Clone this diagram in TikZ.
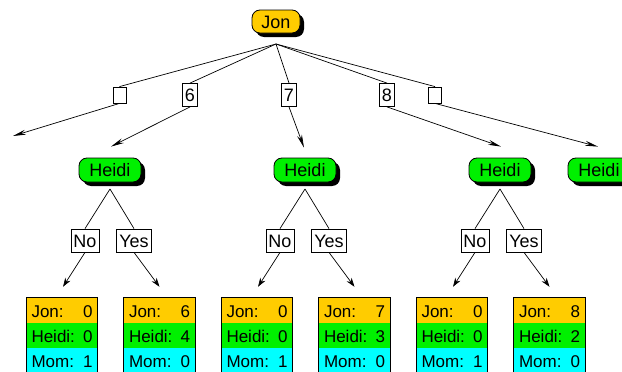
\documentclass[tikz,border=0pt]{standalone}
\usepackage{fontspec}
\setmainfont{Liberation Sans}
\usetikzlibrary{shadows,arrows.meta,calc}
\definecolor{jonc}{RGB}{255,204,0}
\definecolor{heidic}{RGB}{0,240,0}
\definecolor{momc}{RGB}{0,255,255}
\begin{document}
\begin{tikzpicture}[x=1pt,y=-1pt,
  player/.style={draw=black, line width=0.8pt, rounded corners=8pt, inner sep=0pt,
    text height=13pt, text depth=0pt, font=\fontsize{18}{18}\selectfont,
    drop shadow={shadow xshift=4pt, shadow yshift=-4pt, fill=black, opacity=1}},
  jonnode/.style={player, fill=jonc, minimum width=48pt, minimum height=23pt},
  heidinode/.style={player, fill=heidic, minimum width=62pt, minimum height=24pt},
  lab/.style={draw=black, line width=0.8pt, fill=white, inner xsep=2.5pt, inner ysep=0pt,
    minimum height=23pt, text height=13pt, text depth=0pt, font=\fontsize{18}{18}\selectfont},
  emptylab/.style={draw=black, line width=0.8pt, fill=white, inner sep=0pt,
    minimum width=13pt, minimum height=16pt},
  leafrow/.style={inner xsep=5pt, inner ysep=0pt, minimum height=25pt, text width=61pt,
    text height=13pt, text depth=0pt, font=\fontsize{17}{17}\selectfont},
  jrow/.style={leafrow, fill=jonc},
  hrow/.style={leafrow, fill=heidic},
  mrow/.style={leafrow, fill=momc},
  leafborder/.style={draw=black, line width=0.8pt},
  conn/.style={line width=0.7pt},
  arr/.style={conn, -{Stealth[length=13pt,width=5pt]}},
  sarr/.style={conn, -{Stealth[length=9pt,width=6pt]}},
]
\useasboundingbox (0,0) rectangle (622,372);
\clip (0,0) rectangle (622,372);

% root
\node[jonnode] (jon) at (276,21.5) {Jon};
\coordinate (japex) at (276,44);

% move labels
\node[emptylab] (l1) at (119.5,95) {};
\node[lab] (l2) at (190,95) {6};
\node[lab] (l3) at (289,95) {7};
\node[lab] (l4) at (387,95) {8};
\node[emptylab] (l5) at (435,95) {};
\coordinate (offl) at (13,136);

% Heidi nodes
\node[heidinode] (h1) at (110,170) {Heidi};
\node[heidinode] (h2) at (305,170) {Heidi};
\node[heidinode] (h3) at (500,170) {Heidi};
\node[heidinode] (h4) at (599,170) {Heidi};

\draw[conn] (japex) -- (l1.north);
\draw[conn] (japex) -- (l2.north);
\draw[conn] (japex) -- (l3.north);
\draw[conn] (japex) -- (l4.north);
\draw[conn] (japex) -- (l5.north);
\draw[arr] (l1.south) -- (offl);
\draw[arr] (l2.south) -- ($(h1.north)+(1,-11)$);
\draw[arr] (l3.south) -- ($(h2.north)+(-1,-10)$);
\draw[arr] (l4.south) -- ($(h3.north)+(1,-11)$);
\draw[arr] (l5.south) -- ($(h4.north)+(-1,-11)$);

% subtrees
\foreach \i/\H/\ja/\ha/\ma/\jb/\hb/\mb in {1/110/0/0/1/6/4/0, 2/305/0/0/1/7/3/0, 3/500/0/0/1/8/2/0} {
  \coordinate (ha\i) at (\H,189);
  \node[lab] (no\i) at (\H-25,240.5) {No};
  \node[lab] (yes\i) at (\H+24,240.5) {Yes};
  \node[jrow] (fa\i j) at (\H-48,310.5) {Jon:\hfill \ja};
  \node[hrow] (fa\i h) at (\H-48,335.5) {Heidi:\hfill \ha};
  \node[mrow] (fa\i m) at (\H-48,360.5) {Mom:\hfill \ma};
  \draw[leafborder] (fa\i j.north west) rectangle (fa\i m.south east);
  \node[jrow] (fb\i j) at (\H+49.5,310.5) {Jon:\hfill \jb};
  \node[hrow] (fb\i h) at (\H+49.5,335.5) {Heidi:\hfill \hb};
  \node[mrow] (fb\i m) at (\H+49.5,360.5) {Mom:\hfill \mb};
  \draw[leafborder] (fb\i j.north west) rectangle (fb\i m.south east);
  \draw[conn] (ha\i) -- (no\i.north);
  \draw[conn] (ha\i) -- (yes\i.north);
  \draw[sarr] (no\i.south) -- ($(fa\i j.north)+(1,-11)$);
  \draw[sarr] (yes\i.south) -- ($(fb\i j.north)+(0,-11)$);
}
\end{tikzpicture}
\end{document}
